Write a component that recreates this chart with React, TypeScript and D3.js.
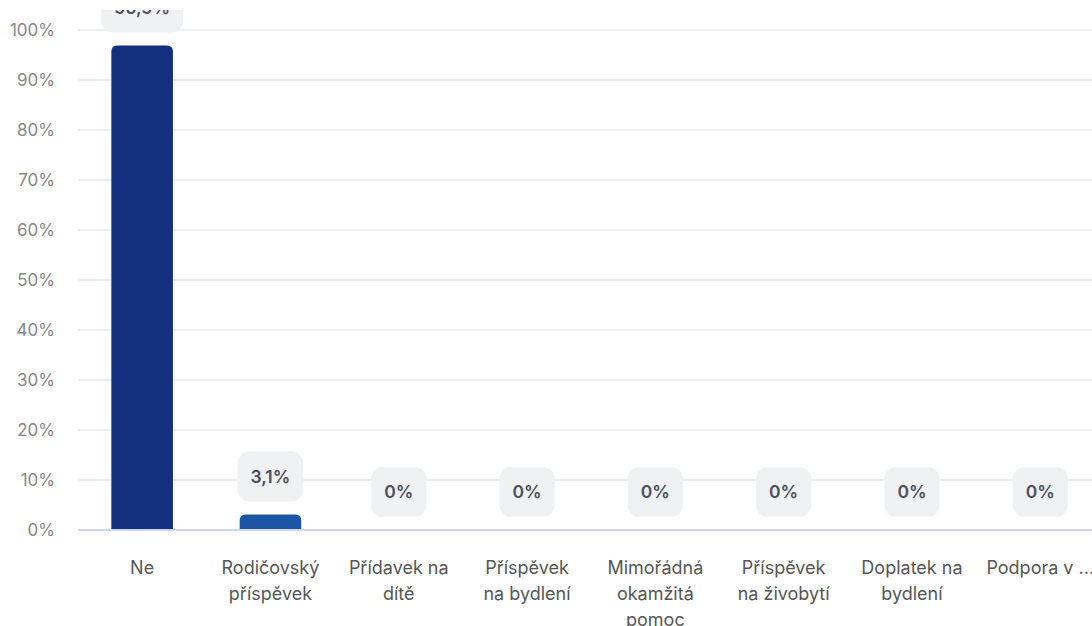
import React from "react";
import { scaleBand, scaleLinear } from "d3";

const categories = [
  "Ne",
  "Rodičovský příspěvek",
  "Přídavek na dítě",
  "Příspěvek na bydlení",
  "Mimořádná okamžitá pomoc",
  "Příspěvek na živobytí",
  "Doplatek na bydlení",
  "Podpora v ...",
];
// wrapped the same way as the original axis labels
const labelLines = [
  ["Ne"],
  ["Rodičovský", "příspěvek"],
  ["Přídavek na", "dítě"],
  ["Příspěvek", "na bydlení"],
  ["Mimořádná", "okamžitá", "pomoc"],
  ["Příspěvek", "na živobytí"],
  ["Doplatek na", "bydlení"],
  ["Podpora v ..."],
];
const values = [96.9, 3.1, 0, 0, 0, 0, 0, 0];
const valueLabels = ["96,9%", "3,1%", "0%", "0%", "0%", "0%", "0%", "0%"];
const barColors = ["#13307f", "#1d55a6", "#1d55a6", "#1d55a6", "#1d55a6", "#1d55a6", "#1d55a6", "#1d55a6"];
const yTicks = [0, 10, 20, 30, 40, 50, 60, 70, 80, 90, 100];

const width = 1092;
const height = 626;
const font = "Inter, 'Noto Sans', sans-serif";

const measure = (txt: string, f: string) => {
  const ctx = document.createElement("canvas").getContext("2d");
  if (!ctx) return txt.length * 9;
  ctx.font = f;
  return ctx.measureText(txt).width;
};

const App = () => {
  const x = scaleBand()
    .domain(categories)
    .range([78, 78 + 8 * 128.3])
    .paddingInner(0.52)
    .paddingOuter(0.26);

  const y = scaleLinear().domain([0, 100]).range([530, 30]);

  return (
    <svg
      width={width}
      height={height}
      style={{ position: "absolute", left: 0, top: 0, fontFamily: font }}
    >
      <rect width={width} height={height} fill="#fff" />
      {/* grid + y axis */}
      {yTicks.map((t) => (
        <g key={t}>
          {t > 0 && (
            <line x1={78} x2={width} y1={y(t)} y2={y(t)} stroke="#e6e7ea" strokeWidth={1.3} />
          )}
          <text
            x={55}
            y={y(t)}
            dy="0.35em"
            textAnchor="end"
            fontSize={17}
            fill="#878787"
          >
            {t}%
          </text>
        </g>
      ))}

      {/* bars */}
      {categories.map((c, i) => {
        const x0 = x(c) as number;
        const top = y(values[i]);
        const h = y(0) - top;
        const r = Math.min(6, h);
        if (h <= 0) return null;
        return (
          <path
            key={c}
            d={`M${x0},${y(0)} V${top + r} Q${x0},${top} ${x0 + r},${top} H${x0 + x.bandwidth() - r} Q${x0 + x.bandwidth()},${top} ${x0 + x.bandwidth()},${top + r} V${y(0)} Z`}
            fill={barColors[i]}
          />
        );
      })}

      {/* x axis line */}
      <line x1={78} x2={width} y1={y(0)} y2={y(0)} stroke="#cdd7ef" strokeWidth={2} />

      {/* value labels */}
      {categories.map((c, i) => {
        const cx = (x(c) as number) + x.bandwidth() / 2;
        const tw = measure(valueLabels[i], `600 17.5px ${font}`);
        const bw = tw + 26;
        const bottom = y(values[i]) - 13;
        const bh = 50;
        return (
          <g key={c}>
            <rect x={cx - bw / 2} y={bottom - bh} width={bw} height={bh} rx={12} fill="#f0f1f2" />
            <text
              x={cx}
              y={bottom - bh / 2}
              dy="0.35em"
              textAnchor="middle"
              fontSize={17.5}
              fontWeight={600}
              fill="#4b505e"
            >
              {valueLabels[i]}
            </text>
          </g>
        );
      })}

      {/* top of the chart is cropped in the original view */}
      <rect x={0} y={0} width={width} height={10} fill="#fff" />

      {/* x labels */}
      {categories.map((c, i) => {
        const cx = (x(c) as number) + x.bandwidth() / 2;
        return (
          <text key={c} textAnchor="middle" fontSize={18} fill="#565656">
            {labelLines[i].map((l, j) => (
              <tspan key={j} x={cx} y={574 + j * 26}>
                {l}
              </tspan>
            ))}
          </text>
        );
      })}
    </svg>
  );
};

export default App;
